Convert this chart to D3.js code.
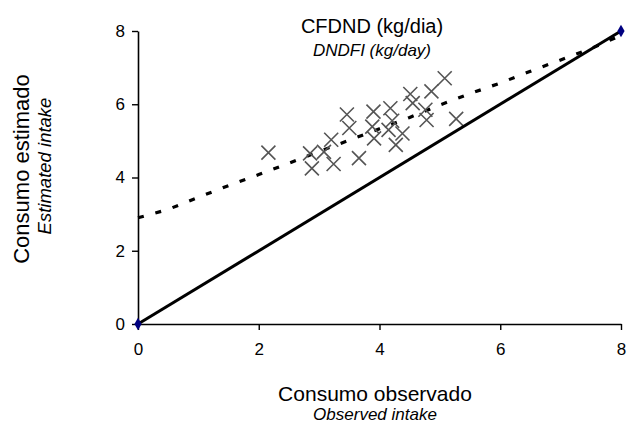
<!DOCTYPE html>
<html>
<head>
<meta charset="utf-8">
<script src="https://cdn.jsdelivr.net/npm/d3@7"></script>
<style>
  body { margin: 0; background: #fff; }
  svg { font-family: "Liberation Sans", Arial, sans-serif; }
</style>
</head>
<body>
<svg id="chart" width="630" height="425"></svg>
<script>
// observed vs estimated intake (kg/day)
const obsX = [2.16, 2.85, 2.88, 3.08, 3.24, 3.20, 3.46, 3.50, 3.66, 3.88, 3.90, 3.91,
  4.18, 4.21, 4.15, 4.27, 4.38, 4.51, 4.55, 4.76, 4.78, 4.86, 5.08, 5.27];
const estY = [4.68, 4.66, 4.25, 4.70, 4.37, 5.03, 5.72, 5.35, 4.53, 5.39, 5.80, 5.07,
  5.89, 5.55, 5.30, 4.89, 5.20, 6.28, 6.03, 5.85, 5.57, 6.35, 6.71, 5.60];

// fitted (dashed) line
const fitX = [0, 0.5, 1, 1.5, 2, 2.5, 3, 3.5, 4, 4.5, 5, 5.5, 6, 6.5, 7, 7.5, 8];
const fitY = [2.9, 3.13, 3.46, 3.78, 4.08, 4.39, 4.71, 5.02, 5.33, 5.64, 5.98, 6.29, 6.58, 6.9, 7.21, 7.52, 7.88];

// 1:1 line
const idX = [0, 8];
const idY = [0, 8];

const xTicks = [0, 2, 4, 6, 8];
const yTicks = [0, 2, 4, 6, 8];

const svg = d3.select('#chart');
const plotLeft = 138, plotRight = 621, plotTop = 31, plotBottom = 324;

const x = d3.scaleLinear().domain([0, 8]).range([plotLeft, plotRight]);
const y = d3.scaleLinear().domain([0, 8]).range([plotBottom, plotTop]);

const xAxis = svg.append('g')
  .attr('transform', 'translate(0,' + plotBottom + ')')
  .call(d3.axisBottom(x).tickValues(xTicks).tickSize(6).tickPadding(13).tickSizeOuter(0));
const yAxis = svg.append('g')
  .attr('transform', 'translate(' + plotLeft + ',0)')
  .call(d3.axisLeft(y).tickValues(yTicks).tickSize(6).tickPadding(7).tickSizeOuter(0));

[xAxis, yAxis].forEach(function(a) {
  a.select('.domain').attr('stroke', '#000').attr('stroke-width', 1.6);
  a.selectAll('.tick line').attr('stroke', '#000').attr('stroke-width', 1.4);
  a.selectAll('.tick text')
    .attr('font-size', 17)
    .attr('fill', '#000')
    .style('font-family', '"Liberation Sans", Arial, sans-serif');
});

const line = d3.line()
  .x(function(d) { return x(d[0]); })
  .y(function(d) { return y(d[1]); });

// dashed fit
svg.append('path')
  .datum(fitX.map(function(v, i) { return [v, fitY[i]]; }))
  .attr('d', line)
  .attr('fill', 'none')
  .attr('stroke', '#000')
  .attr('stroke-width', 3.2)
  .attr('stroke-dasharray', '6,12');

// scatter crosses
const s = 7;
svg.append('g').selectAll('path')
  .data(obsX.map(function(v, i) { return [v, estY[i]]; }))
  .enter()
  .append('path')
  .attr('d', function(d) {
    const cx = x(d[0]), cy = y(d[1]);
    return 'M' + (cx - s) + ',' + (cy - s) + 'L' + (cx + s) + ',' + (cy + s) +
      'M' + (cx - s) + ',' + (cy + s) + 'L' + (cx + s) + ',' + (cy - s);
  })
  .attr('stroke', '#555')
  .attr('stroke-width', 1.6)
  .attr('fill', 'none');

// 1:1 line
const idData = idX.map(function(v, i) { return [v, idY[i]]; });
svg.append('path')
  .datum(idData)
  .attr('d', line)
  .attr('fill', 'none')
  .attr('stroke', '#000')
  .attr('stroke-width', 3);

svg.append('g').selectAll('path')
  .data(idData)
  .enter()
  .append('path')
  .attr('d', d3.symbol().type(d3.symbolDiamond).size(45))
  .attr('transform', function(d) { return 'translate(' + x(d[0]) + ',' + y(d[1]) + ')'; })
  .attr('fill', '#000080');

// titles
svg.append('text')
  .attr('x', 372).attr('y', 33)
  .attr('text-anchor', 'middle')
  .attr('font-size', 20)
  .text('CFDND (kg/dia)');
svg.append('text')
  .attr('x', 372).attr('y', 56)
  .attr('text-anchor', 'middle')
  .attr('font-size', 17)
  .attr('font-style', 'italic')
  .text('DNDFI (kg/day)');

svg.append('text')
  .attr('x', 375).attr('y', 401)
  .attr('text-anchor', 'middle')
  .attr('font-size', 21)
  .text('Consumo observado');
svg.append('text')
  .attr('x', 375).attr('y', 420)
  .attr('text-anchor', 'middle')
  .attr('font-size', 17)
  .attr('font-style', 'italic')
  .text('Observed intake');

svg.append('text')
  .attr('transform', 'translate(29,169) rotate(-90)')
  .attr('text-anchor', 'middle')
  .attr('font-size', 22)
  .text('Consumo estimado');
svg.append('text')
  .attr('transform', 'translate(51,166) rotate(-90)')
  .attr('text-anchor', 'middle')
  .attr('font-size', 18.5)
  .attr('font-style', 'italic')
  .text('Estimated intake');
</script>
</body>
</html>
